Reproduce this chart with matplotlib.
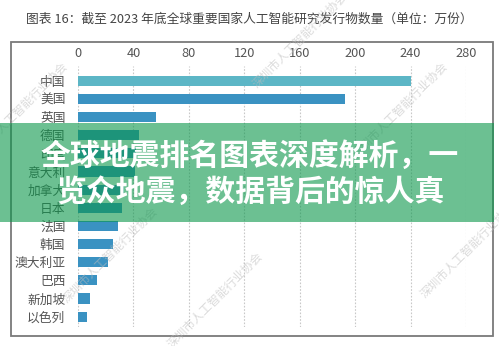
import matplotlib.pyplot as plt
from matplotlib.patches import Rectangle

plt.rcParams['font.family'] = ['Noto Sans CJK SC', 'DejaVu Sans']

# AI research publications by country, end of 2023 (10k items)
countries = ['中国', '美国', '英国', '德国', '印度', '意大利', '加拿大', '日本',
             '法国', '韩国', '澳大利亚', '巴西', '新加坡', '以色列']
publications = [240, 193, 56, 44, 42, 41, 33, 31.5, 28.6, 25.5, 21.9, 13.9, 8.9, 6.7]
xticks = [0, 40, 80, 120, 160, 200, 240, 280]

title = '图表 16：截至 2023 年底全球重要国家人工智能研究发行物数量（单位：万份）'
banner_lines = ['全球地震排名图表深度解析，一', '览众地震，数据背后的惊人真']
watermark = '深圳市人工智能行业协会'

W, H = 499, 346
fig = plt.figure(figsize=(W / 100, H / 100), dpi=100)
fig.patch.set_facecolor('white')

ax = fig.add_axes([78 / W, 1 - 327 / H, (466 - 78) / W, (327 - 66) / H])
colors = ['#5cb6c6'] + ['#3a92c2'] * (len(countries) - 1)
ax.barh(range(len(countries)), publications, height=0.56, color=colors, zorder=2)

ax.set_xlim(0, 280)
ax.set_ylim(13.57, -0.81)
ax.xaxis.tick_top()
ax.set_xticks(xticks)
ax.set_yticks(range(len(countries)))
ax.set_yticklabels(countries)
ax.tick_params(axis='x', length=0, pad=4, labelsize=9.2, labelcolor='#555555')
ax.tick_params(axis='y', length=0, pad=9, labelsize=9.2, labelcolor='#555555')
ax.grid(axis='x', color='#c8c8c8', linestyle=(0, (1.5, 1.5)), linewidth=0.8, zorder=0)
for s in ax.spines.values():
    s.set_visible(False)

# outer frame
fig.add_artist(Rectangle((11 / W, 1 - 336 / H), (493 - 11) / W, (336 - 42) / H,
                         transform=fig.transFigure, fill=False,
                         edgecolor='#7a7a7a', linewidth=1.3))

fig.text(0.5, 1 - 19 / H, title, ha='center', va='center',
         fontsize=9.2, color='#444444')

# diagonal watermarks
for cx, cy in [(300, 40), (400, 110), (110, 255), (215, 300), (468, 250), (20, 110)]:
    fig.text(cx / W, 1 - cy / H, watermark, rotation=45, ha='center', va='center',
             fontsize=8.5, color='#bdbdbd', alpha=0.55, zorder=5)

# banner across the middle
fig.add_artist(Rectangle((0, 1 - 222 / H), 494 / W, (222 - 123) / H,
                         transform=fig.transFigure, facecolor=(0.04, 0.59, 0.29),
                         alpha=0.6, edgecolor='none', zorder=10))
fig.text(250 / W, 1 - 156 / H, banner_lines[0], ha='center', va='center',
         fontsize=21.5, fontweight='bold', color='white', zorder=11)
fig.text(251 / W, 1 - 192 / H, banner_lines[1], ha='center', va='center',
         fontsize=21.5, fontweight='bold', color='white', zorder=11)

fig.savefig('out.png', dpi=100)
